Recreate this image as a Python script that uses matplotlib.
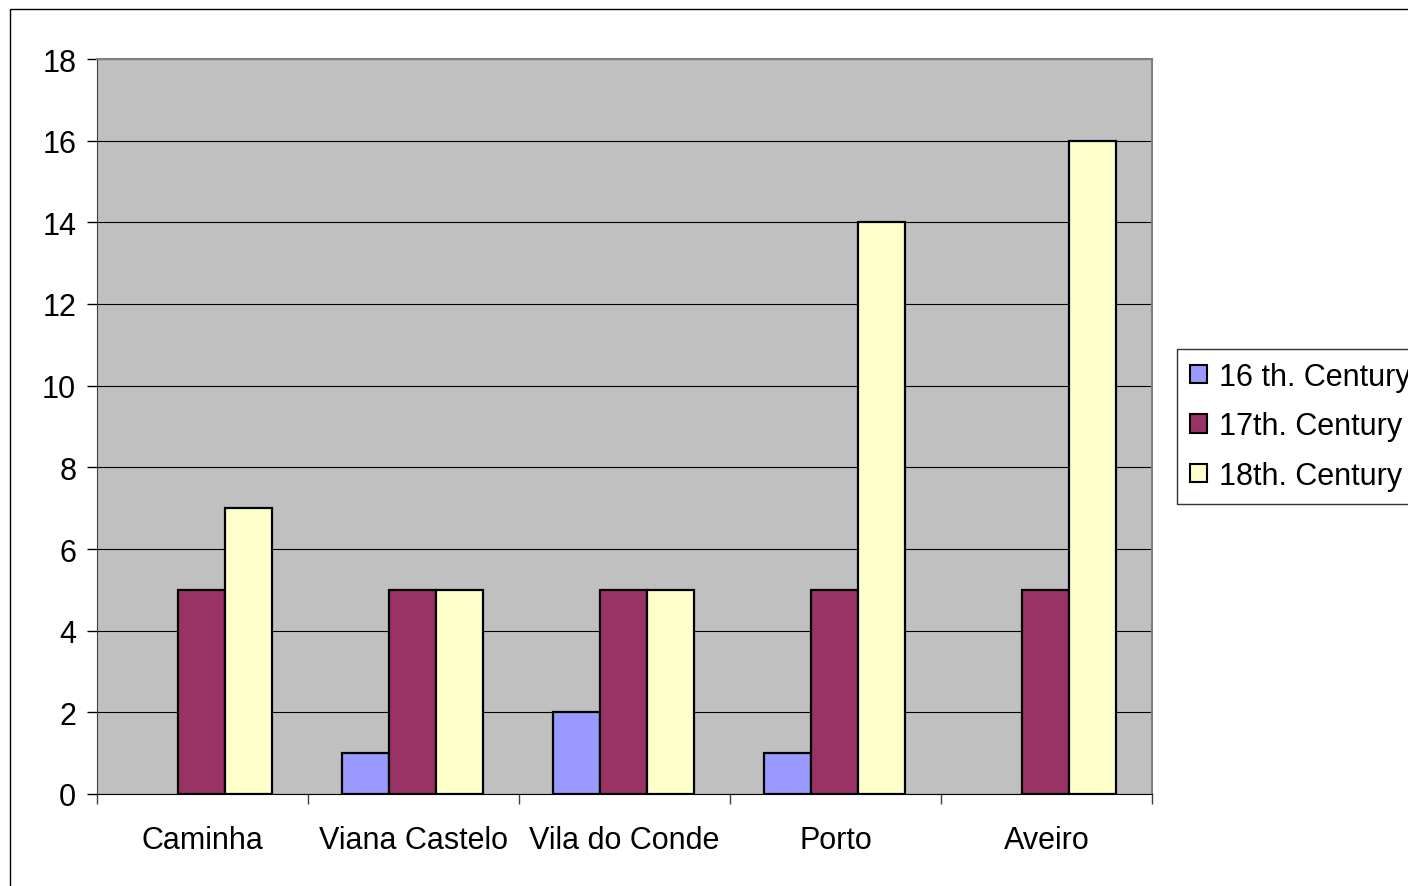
import numpy as np
import matplotlib
matplotlib.use('Agg')
import matplotlib.pyplot as plt
from matplotlib.patches import Rectangle

plt.rcParams['font.family'] = ['Liberation Sans', 'DejaVu Sans']

# 数据
ports = ["Caminha", "Viana Castelo", "Vila do Conde", "Porto", "Aveiro"]
series_names = ["16 th. Century", "17th. Century", "18th. Century"]
c16 = [0, 1, 2, 1, 0]
c17 = [5, 5, 5, 5, 5]
c18 = [7, 5, 5, 14, 16]
colors = ["#9999FF", "#993366", "#FFFFCC"]
y_ticks = list(range(0, 19, 2))

W, H = 1408, 887
fig = plt.figure(figsize=(W / 100, H / 100), dpi=100)
fig.patch.set_facecolor("white")

# 外框
fig.patches.append(Rectangle((10 / W, -0.1), 1.2, 1 - 10 / H + 0.1,
                             transform=fig.transFigure, fill=False,
                             edgecolor="black", linewidth=1.0))

ax = fig.add_axes([97 / W, 1 - 795 / H, 1055 / W, 735 / H])
ax.set_facecolor("#C0C0C0")

x = np.arange(len(ports))
bw = 0.223
for i, (vals, name, col) in enumerate(zip([c16, c17, c18], series_names, colors)):
    edges = ["black" if v > 0 else "none" for v in vals]
    ax.bar(x + (i - 1) * bw - 0.005, vals, width=bw, color=col, edgecolor=edges,
           linewidth=1.6, label=name, zorder=3)

ax.set_xlim(-0.5, len(ports) - 0.5)
ax.set_ylim(0, 18)
ax.set_yticks(y_ticks)
ax.yaxis.grid(True, color="black", linewidth=0.8, zorder=1)
ax.set_axisbelow(True)

ax.set_xticks(x)
ax.set_xticklabels(ports, fontsize=22)
ax.set_xticks(np.arange(-0.5, len(ports), 1), minor=True)
ax.tick_params(axis="x", which="major", length=0, pad=22)
ax.tick_params(axis="x", which="minor", length=7, width=1, color="#404040")
ax.tick_params(axis="y", labelsize=22, length=7, width=1, pad=8)

for s in ["top", "right"]:
    ax.spines[s].set_color("#808080")
    ax.spines[s].set_linewidth(1.5)
ax.spines["left"].set_color("#404040")
ax.spines["bottom"].set_color("black")

leg = fig.legend(loc="upper left", bbox_to_anchor=(1177 / W, 1 - 350 / H),
                 fontsize=22, frameon=True, fancybox=False, edgecolor="black",
                 handlelength=0.55, handleheight=0.55, handletextpad=0.4,
                 labelspacing=0.64, borderpad=0.42, borderaxespad=0)
leg.get_frame().set_linewidth(1.0)
for h in leg.legend_handles:
    h.set_edgecolor("black")
    h.set_linewidth(1.5)

fig.savefig("out.png", dpi=100)
